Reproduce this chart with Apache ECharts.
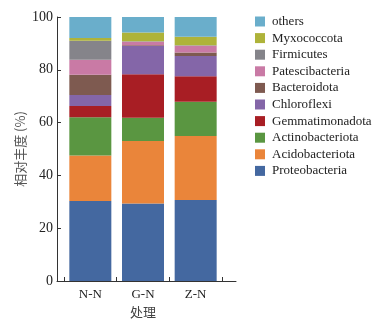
<!DOCTYPE html>
<html>
<head>
<meta charset="utf-8">
<script src="https://cdn.jsdelivr.net/npm/echarts@6/dist/echarts.min.js"></script>
<style>
  html, body { margin: 0; padding: 0; background: #fff; }
  #chart { width: 386px; height: 324px; }
</style>
</head>
<body>
<div id="chart"></div>
<script>
// Treatments on the x axis
const categories = ['N-N', 'G-N', 'Z-N'];

// Relative abundance (%) of each phylum, per treatment
const proteobacteria   = [30.3, 29.4, 30.7];
const acidobacteriota  = [17.2, 23.6, 24.2];
const actinobacteriota = [14.5, 8.8, 13.0];
const gemmatimonadota  = [4.3, 16.5, 9.7];
const chloroflexi      = [4.2, 10.7, 7.6];
const bacteroidota     = [7.6, 0.3, 1.4];
const patescibacteria  = [5.7, 1.3, 2.5];
const firmicutes       = [7.2, 0.2, 0.2];
const myxococcota      = [1.0, 3.3, 3.2];
const others           = [8.0, 5.9, 7.5];

const yTicks = [0, 20, 40, 60, 80, 100];

// Stacked from the bottom up
const groups = [
  { name: 'Proteobacteria',   data: proteobacteria,   color: '#4468a0' },
  { name: 'Acidobacteriota',  data: acidobacteriota,  color: '#ea853a' },
  { name: 'Actinobacteriota', data: actinobacteriota, color: '#5a9641' },
  { name: 'Gemmatimonadota',  data: gemmatimonadota,  color: '#a81e24' },
  { name: 'Chloroflexi',      data: chloroflexi,      color: '#8466a8' },
  { name: 'Bacteroidota',     data: bacteroidota,     color: '#7e5a50' },
  { name: 'Patescibacteria',  data: patescibacteria,  color: '#c97aa5' },
  { name: 'Firmicutes',       data: firmicutes,       color: '#85848a' },
  { name: 'Myxococcota',      data: myxococcota,      color: '#aeb33a' },
  { name: 'others',           data: others,           color: '#6aaecb' }
];

const serif = '"Liberation Serif", "DejaVu Serif", serif';
const axisColor = '#333';

const chart = echarts.init(document.getElementById('chart'), null, { renderer: 'canvas' });

chart.setOption({
  animation: false,
  backgroundColor: '#fff',
  legend: {
    orient: 'vertical',
    left: 255,
    top: 15,
    padding: 0,
    itemWidth: 10,
    itemHeight: 10,
    itemGap: 3.6,
    icon: 'rect',
    data: groups.map(g => g.name).reverse(),
    textStyle: { fontFamily: serif, fontSize: 13, color: '#222', padding: [0, 0, 0, 2] }
  },
  grid: [
    // outer frame: carries the y axis and the long x axis line
    { left: 57, right: 150, top: 17, bottom: 43 },
    // inner band: holds the bars and category ticks
    { left: 64, right: 164, top: 17, bottom: 43 }
  ],
  xAxis: [
    {
      gridIndex: 0, type: 'value', min: 0, max: 1,
      axisLine: { show: true, lineStyle: { color: axisColor, width: 1 } },
      axisTick: { show: false }, axisLabel: { show: false }, splitLine: { show: false }
    },
    {
      gridIndex: 1, type: 'category', data: categories,
      name: '处理', nameLocation: 'middle', nameGap: 19,
      nameTextStyle: { fontFamily: '"Noto Sans CJK SC", sans-serif', fontSize: 13, color: '#444' },
      axisLine: { show: false },
      axisTick: { show: true, inside: true, length: 4, lineStyle: { color: axisColor } },
      axisLabel: { fontFamily: serif, fontSize: 13, color: '#222', margin: 7 },
      splitLine: { show: false }
    }
  ],
  yAxis: [
    {
      gridIndex: 0, type: 'value', min: 0, max: 100, interval: 20,
      name: '相对丰度 (%)', nameLocation: 'middle', nameGap: 30, nameRotate: 90,
      nameTextStyle: { fontFamily: '"Noto Sans CJK SC", sans-serif', fontSize: 13, color: '#555' },
      axisLine: { show: true, lineStyle: { color: axisColor, width: 1 } },
      axisTick: { show: true, inside: true, length: 4, lineStyle: { color: axisColor } },
      axisLabel: {
        fontFamily: serif, fontSize: 14, color: '#222', margin: 4,
        formatter: v => (yTicks.indexOf(v) >= 0 ? String(v) : '')
      },
      splitLine: { show: false }
    },
    {
      gridIndex: 1, type: 'value', min: 0, max: 100, interval: 20, show: false
    }
  ],
  series: groups.map(g => ({
    name: g.name,
    type: 'bar',
    xAxisIndex: 1,
    yAxisIndex: 1,
    stack: 'abundance',
    barWidth: 42,
    itemStyle: { color: g.color },
    data: g.data
  }))
});
</script>
</body>
</html>
